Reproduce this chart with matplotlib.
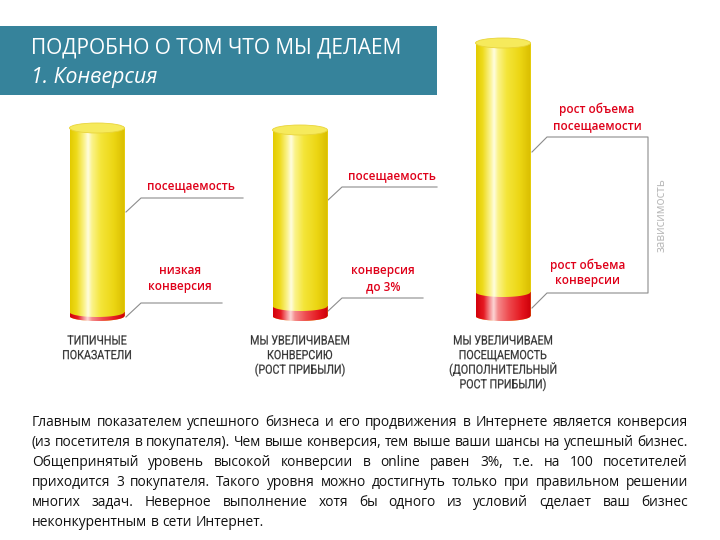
import numpy as np
import matplotlib
matplotlib.use("Agg")
import matplotlib.pyplot as plt
from matplotlib.path import Path
from matplotlib.patches import PathPatch, Ellipse, Rectangle
from matplotlib.colors import to_rgb
from matplotlib.textpath import TextPath
from matplotlib.font_manager import FontProperties
from matplotlib.transforms import Affine2D

# ---------------- data ----------------
categories = ["ТИПИЧНЫЕ\nПОКАЗАТЕЛИ",
              "МЫ УВЕЛИЧИВАЕМ\nКОНВЕРСИЮ\n(РОСТ ПРИБЫЛИ)",
              "МЫ УВЕЛИЧИВАЕМ\nПОСЕЩАЕМОСТЬ\n(ДОПОЛНИТЕЛЬНЫЙ\nРОСТ ПРИБЫЛИ)"]
visits = [188, 186, 273]        # full cylinder height (chart units)
conversion = [4, 10, 24]        # red (conversion) part
upper_labels = ["посещаемость", "посещаемость", "рост объема\nпосещаемости"]
lower_labels = ["низкая\nконверсия", "конверсия\nдо 3%", "рост объема\nконверсии"]
side_label = "зависимость"
title = "ПОДРОБНО О ТОМ ЧТО МЫ ДЕЛАЕМ"
subtitle = "1. Конверсия"
paragraph = [
    "Главным показателем успешного бизнеса и его продвижения в Интернете является конверсия",
    "(из посетителя в покупателя). Чем выше конверсия, тем выше ваши шансы на успешный бизнес.",
    "Общепринятый уровень высокой конверсии в online равен 3%, т.е. на 100 посетителей",
    "приходится 3 покупателя. Такого уровня можно достигнуть только при правильном решении",
    "многих задач. Неверное выполнение хотя бы одного из условий сделает ваш бизнес",
    "неконкурентным в сети Интернет.",
]

# ---------------- layout ----------------
fig = plt.figure(figsize=(7.2, 5.4), dpi=100)
fig.patch.set_facecolor("white")
bg = fig.add_axes([0, 0, 1, 1], zorder=0)
bg.set_xlim(0, 720); bg.set_ylim(540, 0); bg.axis("off")
ax = fig.add_axes([0, 0, 1, 1], zorder=1)
ax.patch.set_alpha(0); ax.axis("off")

X0, DX, BASE = 97, 203, 316          # pixel centre of first bar, spacing, baseline row
W = 55 / DX                           # bar width in category units
RY = 5                                # ellipse half height (chart units = px)
renderer = fig.canvas.get_renderer()

def grad(stops, n=200):
    pos = np.array([s[0] for s in stops])
    cols = np.array([to_rgb(s[1]) for s in stops])
    xx = np.linspace(0, 1, n)
    return np.stack([np.interp(xx, pos, cols[:, k]) for k in range(3)], axis=1)[None, :, :]

yellow = grad([(0, "#e3cb00"), (0.12, "#eedb1c"), (0.26, "#fbf390"), (0.33, "#fffde0"),
               (0.40, "#fbf38a"), (0.56, "#f4e53a"), (0.8, "#ecd613"), (1, "#d9bd00")])
red = grad([(0, "#d3000a"), (0.14, "#e61a22"), (0.26, "#f59a9c"), (0.32, "#fcd6d6"),
            (0.4, "#f58a8c"), (0.6, "#ee4a4e"), (0.85, "#e3131b"), (1, "#cc000a")])

def shape(xc, y0, y1, arc_top):
    l, r = xc - W / 2, xc + W / 2
    t = np.linspace(np.pi, 2 * np.pi, 60)
    bottom = np.column_stack([xc + W / 2 * np.cos(t), y0 + RY * np.sin(t)])
    if arc_top:
        t2 = np.linspace(2 * np.pi, np.pi, 60)
        top = np.column_stack([xc + W / 2 * np.cos(t2), y1 + RY * np.sin(t2)])
    else:
        top = np.array([[r, y1], [l, y1]])
    verts = np.vstack([[[l, y1]], bottom, top, [[l, y1]]])
    return Path(verts, closed=True)

xs = np.arange(len(visits))
ax.bar(xs, visits, width=W, color="#f2dc1a", zorder=1)
ax.bar(xs, conversion, width=W, color="#e3101a", zorder=1)

for i in xs:
    h, c = visits[i], conversion[i]
    for path, img, z in [(shape(i, 0, h, False), yellow, 2), (shape(i, 0, c, True), red, 3)]:
        p = PathPatch(path, transform=ax.transData, facecolor="none", edgecolor="none")
        ax.add_patch(p)
        im = ax.imshow(img, extent=(i - W / 2, i + W / 2, -RY, h + RY), aspect="auto",
                       interpolation="bilinear", zorder=z)
        im.set_clip_path(p)
    ax.add_patch(Ellipse((i, h), W, 2 * RY, facecolor="#f6ea5c", edgecolor="#e9d43a",
                         linewidth=0.6, zorder=4))

ax.set_xlim(-X0 / DX, (720 - X0) / DX)
ax.set_ylim(-(540 - BASE), BASE)

# ---------------- title box ----------------
bg.add_patch(Rectangle((0, 26), 437, 69, facecolor="#36839b", edgecolor="none"))

def fit(t, target):
    bb = t.get_window_extent(renderer)
    t.set_fontsize(t.get_fontsize() * target / bb.width)

t1 = bg.text(31, 48, title, color="white", fontsize=14, family=["Open Sans", "DejaVu Sans"],
             va="center", ha="left")
fit(t1, 374)
t2 = bg.text(31, 78, subtitle, color="white", fontsize=14, style="italic",
             family=["Open Sans", "DejaVu Sans"], va="center", ha="left")
fit(t2, 127)

# ---------------- annotations ----------------
LC = "#8c8c8c"
lines = [
    [(126, 212), (141, 198), (243, 198)],
    [(126, 317), (141, 303), (222, 303)],
    [(327, 201), (342, 187), (437, 187)],
    [(327, 312), (342, 298), (423, 298)],
    [(532, 152), (547, 137), (648, 137), (648, 293), (547, 293), (532, 308)],
]
for ln in lines:
    a = np.array(ln)
    bg.plot(a[:, 0], a[:, 1], color=LC, lw=0.8)

RC = "#df0019"
lab_font = dict(family=["Open Sans", "DejaVu Sans"], weight="semibold", color=RC,
                ha="center", va="center", linespacing=1.25)
probe = bg.text(0, -100, "посещаемость", fontsize=10, **lab_font)
fit(probe, 88)
lfs = probe.get_fontsize()
probe.remove()
up_pos = [(191, 186), (392, 176), (597, 117.5)]
lo_pos = [(180, 278.5), (383, 278.5), (588, 273)]
for (x, y), s in zip(up_pos, upper_labels):
    bg.text(x, y, s, fontsize=lfs, **lab_font)
for (x, y), s in zip(lo_pos, lower_labels):
    bg.text(x, y, s, fontsize=lfs, **lab_font)

st = bg.text(661, 215, side_label, rotation=90, color="#b8b8b8", fontsize=lfs,
             family=["Open Sans", "DejaVu Sans"], ha="center", va="center")
bbs = st.get_window_extent(renderer)
st.set_fontsize(st.get_fontsize() * 74 / bbs.height)

# category labels: condensed rendering via TextPath
cat_fp = FontProperties(family=["Roboto", "DejaVu Sans"])
CAP = 9.0
csize = CAP / 0.711
ref_w = TextPath((0, 0), "МЫ УВЕЛИЧИВАЕМ", size=csize, prop=cat_fp).get_extents().width
SX = 98 / ref_w

def cond_text(xc, ybase, s):
    tp = TextPath((0, 0), s, size=csize, prop=cat_fp)
    ext = tp.get_extents()
    tr = (Affine2D().translate(-(ext.x0 + ext.width / 2), 0).scale(SX, -1)
          .translate(xc, ybase) + bg.transData)
    bg.add_patch(PathPatch(tp, transform=tr, facecolor="#333333", edgecolor="#333333",
                           linewidth=0.15))

for i, s in enumerate(categories):
    for j, ln in enumerate(s.split("\n")):
        cond_text(X0 + DX * i, 344.5 + 14.6 * j, ln)

# ---------------- justified paragraph ----------------
pfont = dict(family=["Open Sans", "DejaVu Sans"], color="#111111", va="center", ha="left")
LEFT, RIGHT = 32, 688
probe = bg.text(0, -100, paragraph[1], fontsize=10, **pfont)
fit(probe, RIGHT - LEFT)
pfs = probe.get_fontsize()
probe.remove()

def word_w(w):
    t = bg.text(0, -100, w, fontsize=pfs, **pfont)
    wd = t.get_window_extent(renderer).width
    t.remove()
    return wd

space_w = word_w("a a") - word_w("aa")
for k, line in enumerate(paragraph):
    y = 422 + 20.1 * k
    words = line.split(" ")
    widths = [word_w(w) for w in words]
    if k < len(paragraph) - 1 and len(words) > 1:
        gap = (RIGHT - LEFT - sum(widths)) / (len(words) - 1)
    else:
        gap = space_w
    x = LEFT
    for w, wd in zip(words, widths):
        bg.text(x, y, w, fontsize=pfs, **pfont)
        x += wd + gap

fig.savefig("out.png", dpi=100, facecolor="white")
